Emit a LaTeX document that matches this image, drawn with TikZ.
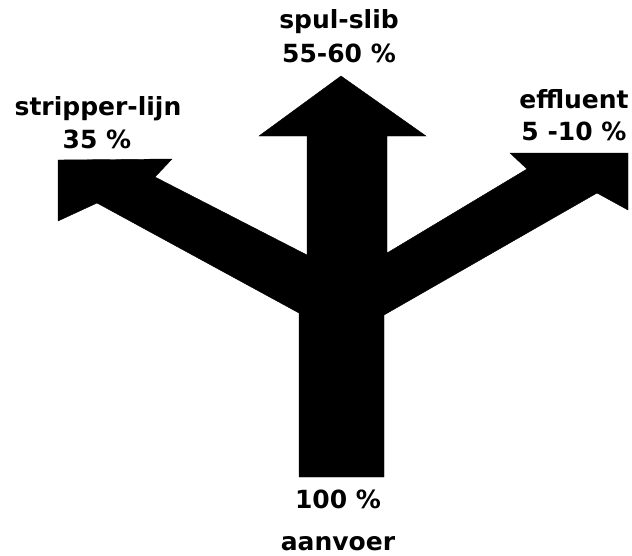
\documentclass[tikz,border=0pt]{standalone}
\usepackage{fontspec}
\newfontfamily\flowfont{DejaVu Sans}
\usepackage{tikz}
\usetikzlibrary{positioning, calc}
\tikzset{
  flow/.style={fill=black, draw=black, line join=miter},
  lbl/.style={font=\flowfont\bfseries\fontsize{25}{29}\selectfont, anchor=base, inner sep=0pt}
}

\begin{document}
\begin{tikzpicture}[x=1pt, y=-1pt]
    \useasboundingbox (0,0) rectangle (632,555);

    % Stroom: aanvoer splitst in drie pijlen
    \fill[flow] (299,477) -- (299,313)
        % linker tak
        -- (97,203) -- (58,221) -- (58,160) -- (172,159) -- (155,177) -- (307,255)
        % middelste tak
        -- (307,136) -- (259,136) -- (341,76) -- (426,136) -- (387,136) -- (387,253)
        % rechter tak
        -- (527,169) -- (510,153) -- (628,153) -- (628,210) -- (597,193) -- (384,315)
        -- (384,477) -- cycle;

    % Teksten bij de pijlen
    \foreach \x/\y/\txt/\nm in {
        98/115/stripper-lijn/Lstrip, 97/148/35 \%/Pstrip,
        339/28/spul-slib/Lspul, 339/62/55-60 \%/Pspul,
        574/108/effluent/Leff, 574/140/5 -10 \%/Peff,
        338/508/100 \%/Paan, 338/550/aanvoer/Laan
    } {
        \node[lbl] (\nm) at (\x,\y) {\txt};
    }

\end{tikzpicture}
\end{document}
